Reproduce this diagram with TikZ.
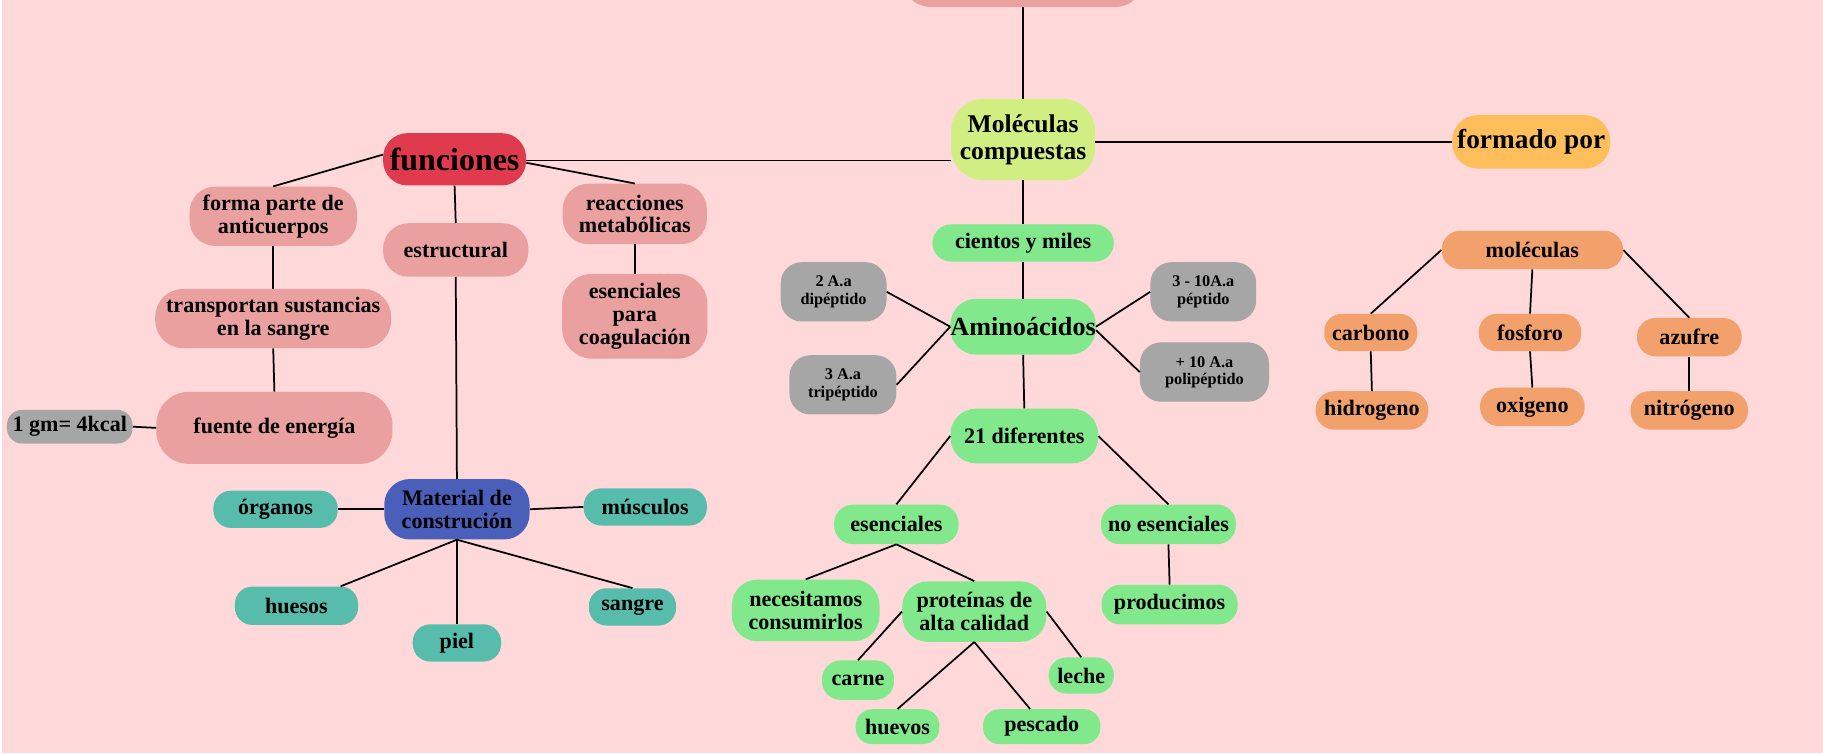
\documentclass[tikz,border=0pt]{standalone}
\usepackage{fontspec}
\setmainfont{Liberation Serif}
\definecolor{bgc}{HTML}{FFD9D9}
\definecolor{cpink}{HTML}{EBA0A0}
\definecolor{cred}{HTML}{E03A4E}
\definecolor{cyel}{HTML}{D1EE82}
\definecolor{cgreen}{HTML}{82E88C}
\definecolor{cgray}{HTML}{A6A6A6}
\definecolor{cgold}{HTML}{FFBE5C}
\definecolor{corange}{HTML}{F2A06C}
\definecolor{cblue}{HTML}{4A5FBA}
\definecolor{cteal}{HTML}{57BCAC}
\begin{document}
\begin{tikzpicture}[x=1pt,y=-1pt,
  every node/.style={inner sep=0pt, align=center},
  nd/.style n args={3}{minimum width=#1 pt, minimum height=#2 pt, rounded corners=#3 pt},
  fsmall/.style={font=\fontsize{19}{19.5}\selectfont\bfseries},
  ftiny/.style={font=\fontsize{14}{15}\selectfont\bfseries},
  pinkn/.style={fill=cpink, fsmall},
  greenn/.style={fill=cgreen, fsmall},
  grayn/.style={fill=cgray, ftiny},
  tealn/.style={fill=cteal, fsmall},
  orangen/.style={fill=corange, fsmall},
  link/.style={draw=black, line width=1.5pt}]
\clip (0,0) rectangle (1568,649);
\fill[white] (0,0) rectangle (1568,649);
\fill[bgc] (2,0) rectangle (1568,648);

% top / centre
\node (top) [nd={210}{56}{26}, fill=cpink] at (880,-22) {};
\node (mol) [nd={124}{70}{28}, fill=cyel, font=\fontsize{22}{23.5}\selectfont\bfseries] at (880,120) {Moléculas\\compuestas};
\node (fun) [nd={123}{45}{21}, fill=cred, font=\fontsize{27.5}{28}\selectfont\bfseries] at (391,137) {funciones};
\node (form) [nd={136}{46}{22}, fill=cgold, font=\fontsize{23.5}{24}\selectfont\bfseries] at (1317,122) {formado por};

% aminoacids branch
\node (cien) [nd={156}{32}{16}, greenn] at (880,209) {cientos y miles};
\node (amino) [nd={125}{48}{22}, fill=cgreen, font=\fontsize{22.5}{23}\selectfont\bfseries] at (880,281) {Aminoácidos};
\node (dip) [nd={91}{51}{18}, grayn] at (717,251) {2 A.a\\dipéptido};
\node (trip) [nd={92}{51}{18}, grayn] at (725,331) {3 A.a\\tripéptido};
\node (pep) [nd={91}{51}{18}, grayn] at (1035,251) {3 - 10A.a\\péptido};
\node (poli) [nd={111}{51}{18}, grayn] at (1036,320) {+ 10 A.a\\polipéptido};
\node (dif) [nd={127}{47}{22}, greenn] at (881,375) {21 diferentes};
\node (esen) [nd={107}{34}{16}, greenn] at (771,451) {esenciales};
\node (noesen) [nd={116}{34}{16}, greenn] at (1005,451) {no esenciales};
\node (nec) [nd={127}{53}{22}, greenn] at (693,525) {necesitamos\\consumirlos};
\node (prot) [nd={124}{52}{22}, greenn] at (838,526) {proteínas de\\alta calidad};
\node (prod) [nd={117}{34}{16}, greenn] at (1006,520) {producimos};
\node (carne) [nd={62}{34}{16}, greenn] at (738,585) {carne};
\node (leche) [nd={56}{31}{15}, greenn] at (930,581) {leche};
\node (huevos) [nd={72}{30}{14}, greenn] at (772,625) {huevos};
\node (pescado) [nd={101}{30}{14}, greenn] at (896,625) {pescado};

% funciones branch
\node (forma) [nd={144}{51}{22}, pinkn] at (235,186) {forma parte de\\anticuerpos};
\node (estr) [nd={125}{46}{22}, pinkn] at (392,215) {estructural};
\node (reac) [nd={124}{52}{22}, pinkn] at (546,184) {reacciones\\metabólicas};
\node (coag) [nd={125}{73}{26}, pinkn] at (546,272) {esenciales\\para\\coagulación};
\node (trans) [nd={203}{51}{24}, pinkn] at (235,274) {transportan sustancias\\en la sangre};
\node (fuente) [nd={203}{62}{28}, pinkn] at (236,368) {fuente de energía};
\node (gm) [nd={108}{29}{13}, fill=cgray, fsmall] at (60,367) {1 gm= 4kcal};
\node (mat) [nd={125}{52}{22}, fill=cblue, fsmall] at (393,438) {Material de\\construción};
\node (org) [nd={107}{32}{15}, tealn] at (237,438) {órganos};
\node (mus) [nd={106}{32}{15}, tealn] at (555,436) {músculos};
\node (hue) [nd={106}{33}{15}, tealn] at (255,521) {huesos};
\node (piel) [nd={76}{32}{15}, tealn] at (393,553) {piel};
\node (sang) [nd={75}{32}{15}, tealn] at (544,522) {sangre};

% formado por branch
\node (molr) [nd={156}{33}{16}, orangen] at (1318,215) {moléculas};
\node (carb) [nd={80}{32}{15}, orangen] at (1179,286) {carbono};
\node (fosf) [nd={88}{32}{15}, orangen] at (1316,286) {fosforo};
\node (azuf) [nd={90}{33}{16}, orangen] at (1453,290) {azufre};
\node (hidr) [nd={97}{33}{16}, orangen] at (1180,353) {hidrogeno};
\node (oxi) [nd={90}{33}{16}, orangen] at (1318,350) {oxigeno};
\node (nitr) [nd={101}{33}{16}, orangen] at (1453,353) {nitrógeno};

% connectors
\draw[link] (top.south) -- (mol.north);
\draw[link] ([yshift=-1pt]fun.east) -- ([yshift=-1pt]fun.east -| mol.west);
\draw[link] (form.west -| mol.east) -- (form.west);
\draw[link] (mol.south) -- (cien.north);
\draw[link] (cien.south) -- (amino.north);
\draw[link] (amino.south) -- (dif.north);
\draw[link] (amino.west) -- (dip.east);
\draw[link] (amino.west) -- (trip.east);
\draw[link] (amino.east) -- (pep.west);
\draw[link] ([yshift=-3pt]amino.east) -- (poli.west);
\draw[link] (dif.west) -- (esen.north);
\draw[link] (dif.east) -- (noesen.north);
\draw[link] (esen.south) -- (nec.north);
\draw[link] (esen.south) -- (prot.north);
\draw[link] (noesen.south) -- (prod.north);
\draw[link] (prot.west) -- (carne.north);
\draw[link] (prot.east) -- (leche.north);
\draw[link] (prot.south) -- (huevos.north);
\draw[link] (prot.south) -- ([xshift=-10pt]pescado.north);
\draw[link] ([yshift=4pt]fun.west) -- (forma.north);
\draw[link] (fun.south) -- (estr.north);
\draw[link] ([yshift=-3pt]fun.east) -- (reac.north);
\draw[link] (reac.south) -- (coag.north);
\draw[link] (forma.south) -- (trans.north);
\draw[link] (trans.south) -- (fuente.north);
\draw[link] (gm.east) -- (fuente.west);
\draw[link] (estr.south) -- (mat.north);
\draw[link] (org.east) -- (mat.west);
\draw[link] (mat.east) -- (mus.west);
\draw[link] (mat.south) -- ([xshift=38pt]hue.north);
\draw[link] (mat.south) -- (piel.north);
\draw[link] (mat.south) -- (sang.north);
\draw[link] (molr.west) -- (carb.north);
\draw[link] (molr.south) -- (fosf.north);
\draw[link] (molr.east) -- (azuf.north);
\draw[link] (carb.south) -- (hidr.north);
\draw[link] (fosf.south) -- (oxi.north);
\draw[link] (azuf.south) -- (nitr.north);
\end{tikzpicture}
\end{document}
